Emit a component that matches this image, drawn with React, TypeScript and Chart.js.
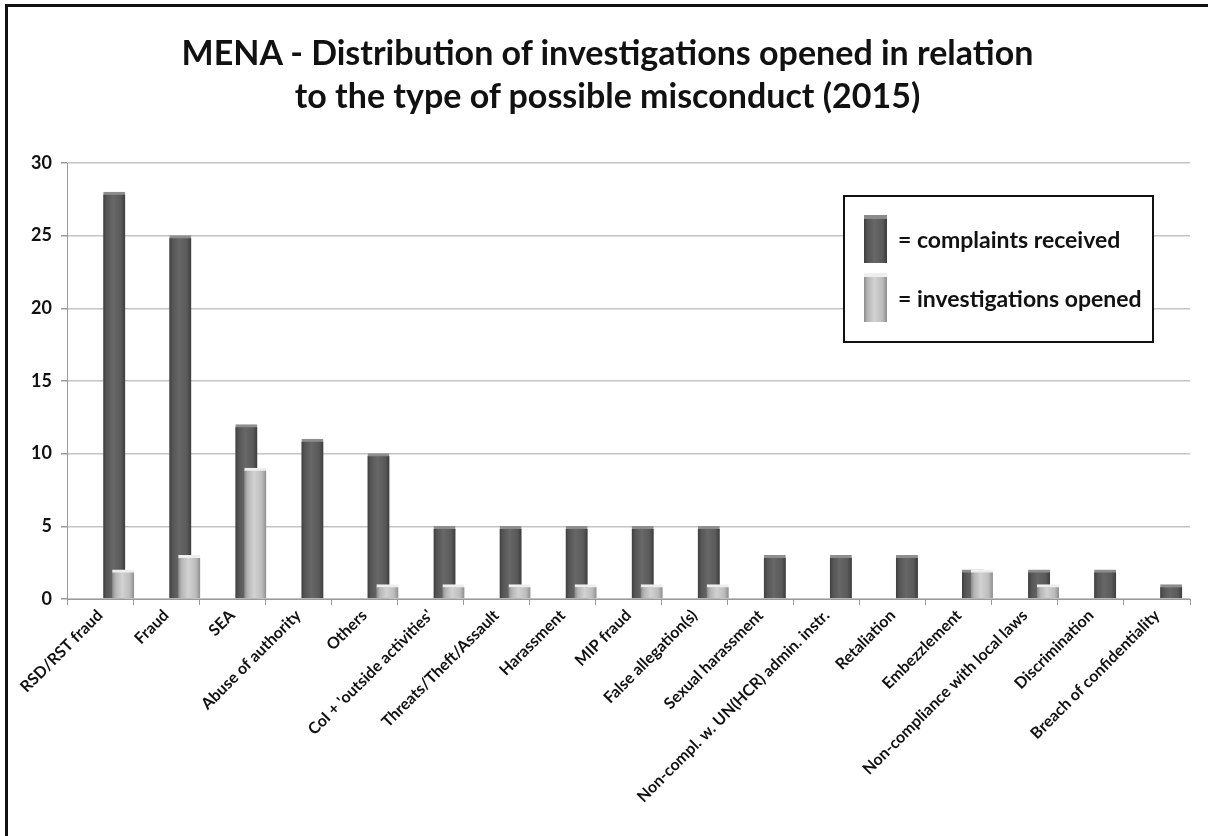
import React, { useEffect, useRef } from 'react';
import { Chart, registerables } from 'chart.js';

Chart.register(...registerables);

const titleLines = [
  'MENA - Distribution of investigations opened in relation',
  'to the type of possible misconduct (2015)',
];

const categories = [
  'RSD/RST fraud',
  'Fraud',
  'SEA',
  'Abuse of authority',
  'Others',
  "CoI + 'outside activities'",
  'Threats/Theft/Assault',
  'Harassment',
  'MIP fraud',
  'False allegation(s)',
  'Sexual harassment',
  'Non-compl. w. UN(HCR) admin. instr.',
  'Retaliation',
  'Embezzlement',
  'Non-compliance with local laws',
  'Discrimination',
  'Breach of confidentiality',
];

const complaintsReceived = [28, 25, 12, 11, 10, 5, 5, 5, 5, 5, 3, 3, 3, 2, 2, 2, 1];
const investigationsOpened = [2, 3, 9, 0, 1, 1, 1, 1, 1, 1, 0, 0, 0, 2, 1, 0, 0];

const yTickValues = [0, 5, 10, 15, 20, 25, 30];

const legendLabels = ['= complaints received', '= investigations opened'];

const FONT = 'Lato, "Open Sans", sans-serif';
const DARK_OFFSET = 0.215;
const LIGHT_OFFSET = 0.35;
const BAR_W = 22;

function gradientFill(stops: [number, string][], fallback: string) {
  return (ctx: any) => {
    const chart = ctx.chart;
    const scale = chart.scales && chart.scales.xb;
    const raw = ctx.raw;
    if (!scale || !raw || ctx.type !== 'data' || !isFinite(scale.getPixelForValue(raw.x))) return fallback;
    const cx = scale.getPixelForValue(raw.x);
    const g = chart.ctx.createLinearGradient(cx - BAR_W / 2, 0, cx + BAR_W / 2, 0);
    stops.forEach(([o, c]) => g.addColorStop(o, c));
    return g;
  };
}

export default function App() {
  const canvasRef = useRef<HTMLCanvasElement | null>(null);

  useEffect(() => {
    document.body.style.margin = '0';
    const canvas = canvasRef.current;
    if (!canvas) return;

    const darkData = complaintsReceived.map((v, i) => ({ x: i + DARK_OFFSET, y: v === 0 ? null : v }));
    const lightData = investigationsOpened.map((v, i) => ({ x: i + LIGHT_OFFSET, y: v === 0 ? null : v }));

    const chart = new Chart(canvas, {
      type: 'bar',
      data: {
        labels: categories,
        datasets: [
          {
            label: legendLabels[0],
            data: darkData as any,
            xAxisID: 'xb',
            yAxisID: 'y',
            grouped: false,
            order: 2,
            barThickness: BAR_W,
            backgroundColor: gradientFill(
              [
                [0, '#3e3e3e'],
                [0.15, '#555555'],
                [0.45, '#676767'],
                [0.8, '#5a5a5a'],
                [1, '#3c3c3c'],
              ],
              '#5e5e5e'
            ),
            borderColor: '#8e8e8e',
            borderWidth: { top: 3, left: 0, right: 0, bottom: 0 },
            borderSkipped: 'bottom',
          } as any,
          {
            label: legendLabels[1],
            data: lightData as any,
            xAxisID: 'xb',
            yAxisID: 'y',
            grouped: false,
            order: 1,
            barThickness: BAR_W,
            backgroundColor: gradientFill(
              [
                [0, '#8a8a8a'],
                [0.15, '#b4b4b4'],
                [0.45, '#d2d2d2'],
                [0.8, '#bcbcbc'],
                [1, '#8e8e8e'],
              ],
              '#c0c0c0'
            ),
            borderColor: '#eeeeee',
            borderWidth: { top: 3, left: 0, right: 0, bottom: 0 },
            borderSkipped: 'bottom',
          } as any,
        ],
      },
      options: {
        responsive: false,
        animation: false,
        events: [],
        layout: { padding: { top: 163, left: 0, right: 18, bottom: 0 } },
        plugins: {
          legend: { display: false },
          title: { display: false },
          tooltip: { enabled: false },
        },
        scales: {
          x: {
            type: 'category',
            offset: true,
            grid: {
              display: true,
              drawOnChartArea: false,
              offset: true,
              tickLength: 6,
              color: '#9a9a9a',
            },
            border: { display: true, color: '#9a9a9a' },
            ticks: {
              autoSkip: false,
              maxRotation: 45,
              minRotation: 45,
              padding: 1,
              color: '#111111',
              font: { family: FONT, size: 16, weight: 'bold' },
            },
            afterFit: (scale: any) => {
              scale.height = 237;
            },
          },
          xb: {
            type: 'linear',
            display: false,
            min: -0.5,
            max: categories.length - 0.5,
            offset: false,
          },
          y: {
            type: 'linear',
            min: 0,
            max: 30,
            afterBuildTicks: (scale: any) => {
              scale.ticks = yTickValues.map((v) => ({ value: v }));
            },
            grid: {
              color: '#c4c4c4',
              lineWidth: 1.5,
              tickLength: 6,
              tickColor: '#9a9a9a',
            },
            border: { display: true, color: '#9a9a9a' },
            ticks: {
              padding: 9,
              color: '#111111',
              font: { family: FONT, size: 18, weight: 'bold' },
            },
            afterFit: (scale: any) => {
              scale.width = 67;
            },
          },
        },
      } as any,
    });

    return () => {
      chart.destroy();
    };
  }, []);

  const swatchBase: React.CSSProperties = {
    position: 'absolute',
    left: 19,
    width: 23,
    boxSizing: 'border-box',
  };

  return (
    <div style={{ position: 'relative', width: 1208, height: 836, background: '#ffffff', overflow: 'hidden' }}>
      <canvas
        ref={canvasRef}
        width={1208}
        height={836}
        style={{ position: 'absolute', left: 0, top: 0, display: 'block' }}
      />
      <div
        style={{
          position: 'absolute',
          left: 5,
          top: 4,
          width: 1300,
          height: 900,
          borderLeft: '3px solid #111',
          borderTop: '3px solid #111',
          pointerEvents: 'none',
        }}
      />
      <div
        style={{
          position: 'absolute',
          left: 0,
          top: 30,
          width: 1215,
          textAlign: 'center',
          fontFamily: FONT,
          fontWeight: 'bold',
          fontSize: 34,
          lineHeight: '43px',
          color: '#111',
        }}
      >
        {titleLines.map((t) => (
          <div key={t}>{t}</div>
        ))}
      </div>
      <div
        style={{
          position: 'absolute',
          left: 843,
          top: 195,
          width: 311,
          height: 148,
          boxSizing: 'border-box',
          border: '2px solid #111',
          background: '#fff',
          fontFamily: FONT,
          fontWeight: 'bold',
          fontSize: 23,
          color: '#111',
        }}
      >
        <div
          style={{
            ...swatchBase,
            top: 18,
            height: 48,
            borderTop: '4px solid #8a8a8a',
            background: 'linear-gradient(to right, #3e3e3e, #555 15%, #676767 45%, #5a5a5a 80%, #3c3c3c)',
          }}
        />
        <div
          style={{
            ...swatchBase,
            top: 76,
            height: 49,
            borderTop: '4px solid #eee',
            background: 'linear-gradient(to right, #8a8a8a, #b4b4b4 15%, #d2d2d2 45%, #bcbcbc 80%, #8e8e8e)',
          }}
        />
        <div style={{ position: 'absolute', left: 53, top: 27, lineHeight: '30px', whiteSpace: 'nowrap' }}>
          {legendLabels[0]}
        </div>
        <div style={{ position: 'absolute', left: 53, top: 86, lineHeight: '30px', whiteSpace: 'nowrap' }}>
          {legendLabels[1]}
        </div>
      </div>
    </div>
  );
}
